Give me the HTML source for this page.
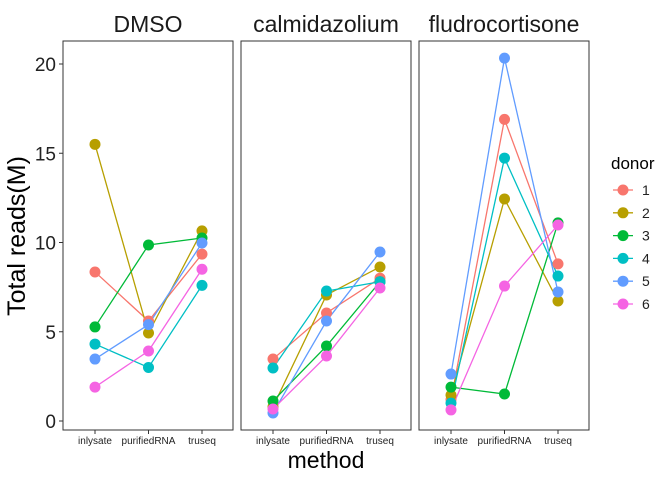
<!DOCTYPE html>
<html><head><meta charset="utf-8"><style>
body{margin:0;background:#fff;font-family:"Liberation Sans",sans-serif}
</style></head><body>
<svg id="c" width="672" height="480" xmlns="http://www.w3.org/2000/svg"></svg>
<script>
const facets=["DMSO","calmidazolium","fludrocortisone"];
const methods=["inlysate","purifiedRNA","truseq"];
const donors=["1","2","3","4","5","6"];
const colors=["#F8766D","#B79F00","#00BA38","#00BFC4","#619CFF","#F564E3"];
const yTicks=[0,5,10,15,20];
// values[facet][donor][method]
const dmso=[[8.35,5.6,9.35],[15.5,4.93,10.65],[5.27,9.86,10.25],[4.31,3.0,7.6],[3.47,5.4,9.97],[1.9,3.92,8.5]];
const calm=[[3.47,6.05,8.0],[0.8,7.06,8.63],[1.12,4.2,7.8],[2.97,7.28,7.8],[0.45,5.6,9.47],[0.67,3.64,7.45]];
const fludro=[[1.2,16.9,8.8],[1.45,12.44,6.72],[1.9,1.51,11.1],[1.0,14.73,8.12],[2.63,20.33,7.23],[0.62,7.56,10.98]];
const values=[dmso,calm,fludro];

const svg=document.getElementById('c');
const NS="http://www.w3.org/2000/svg";
function el(t,a,p){const e=document.createElementNS(NS,t);for(const k in a)e.setAttribute(k,a[k]);(p||svg).appendChild(e);return e;}
const panelL=[63,241,419],panelW=170,panelTop=41,panelBot=430;
const yS=v=>421-v*17.85;
const xS=(f,i)=>panelL[f]+32+i*53.5;

facets.forEach((f,fi)=>{
  const r=el('rect',{x:panelL[fi],y:panelTop,width:panelW,height:panelBot-panelTop,fill:'#fff',stroke:'#333','stroke-width':1});
  
  
  const t=el('text',{x:panelL[fi]+panelW/2,y:32,'text-anchor':'middle','font-size':23,fill:'#1a1a1a'});
  t.textContent=f;
  
  
  methods.forEach((m,mi)=>{
    el('line',{x1:xS(fi,mi),x2:xS(fi,mi),y1:panelBot,y2:panelBot+4,stroke:'#333'});
    const tl=el('text',{x:xS(fi,mi),y:444,'text-anchor':'middle','font-size':10,fill:'#222'});
    tl.textContent=m;
    
    
  });
  donors.forEach((d,di)=>{
    const vals=values[fi][di];
    const pts=vals.map((v,mi)=>xS(fi,mi)+','+yS(v)).join(' ');
    const pl=el('polyline',{points:pts,fill:'none',stroke:colors[di],'stroke-width':1.3});
    
    
  });
  donors.forEach((d,di)=>{
    values[fi][di].forEach((v,mi)=>{
      const c=el('circle',{cx:xS(fi,mi),cy:yS(v),r:5.5,fill:colors[di]});
      
      
    });
  });
});
yTicks.forEach(v=>{
  el('line',{x1:59,x2:63,y1:yS(v),y2:yS(v),stroke:'#333'});
  const t=el('text',{x:56,y:yS(v)+7,'text-anchor':'end','font-size':19,fill:'#222'});
  t.textContent=v;
  
  
});
const yt=el('text',{x:0,y:0,transform:'translate(25,236) rotate(-90)','text-anchor':'middle','font-size':25,fill:'#000'});
yt.textContent='Total reads(M)';


const xt=el('text',{x:326,y:468,'text-anchor':'middle','font-size':23,fill:'#000'});
xt.textContent='method';


const lt=el('text',{x:611,y:169,'font-size':17,fill:'#000'});
lt.textContent='donor';


donors.forEach((d,di)=>{
  const yy=190+di*22.8;
  const g=el('g',{});
  
  
  el('line',{x1:613,x2:633,y1:yy,y2:yy,stroke:colors[di],'stroke-width':1.3},g);
  el('circle',{cx:623,cy:yy,r:5.5,fill:colors[di]},g);
  const t=el('text',{x:642,y:yy+5,'font-size':14,fill:'#222'},g);
  t.textContent=d;
});
</script>
</body></html>
